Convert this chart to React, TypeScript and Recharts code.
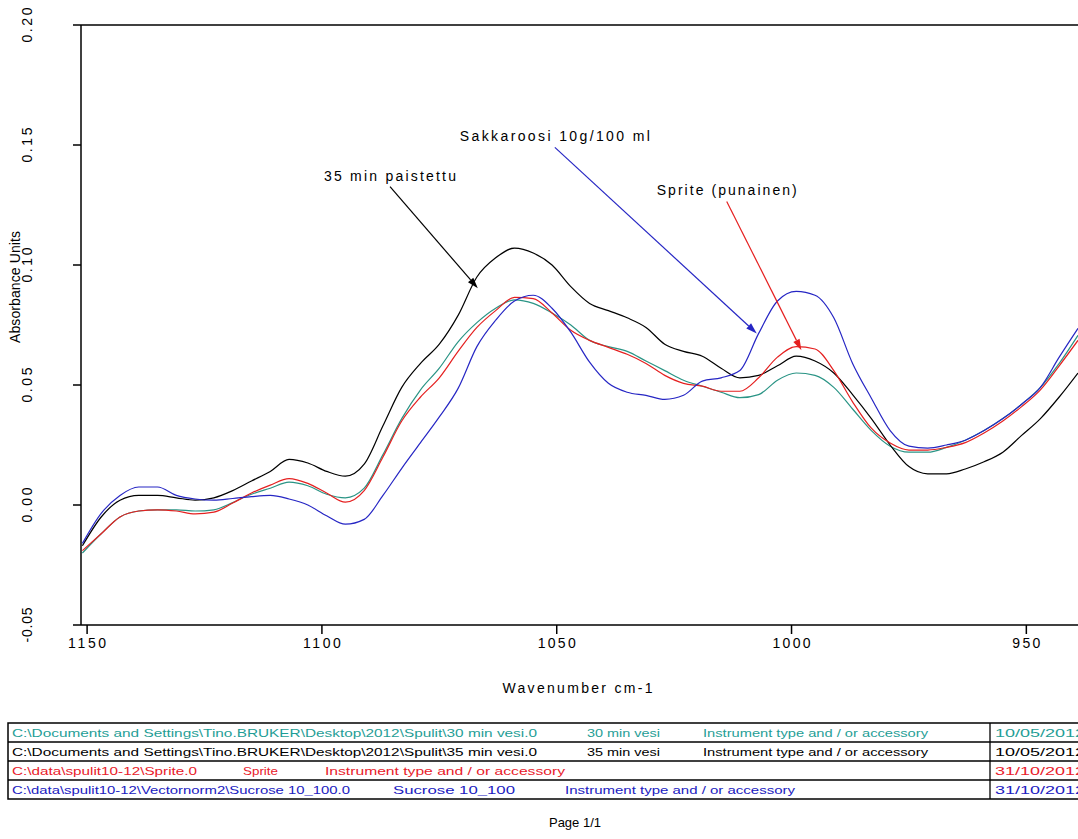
import { LineChart, Line, XAxis, YAxis, ReferenceLine } from 'recharts'

// wavenumber (cm-1), every 4 units
const wavenumbers = [
  1151, 1147, 1143, 1139, 1135, 1131, 1127, 1123, 1119, 1115, 1111, 1107, 1103, 1099, 1095, 1091, 1087, 1083,
  1079, 1075, 1071, 1067, 1063, 1059, 1055, 1051, 1047, 1043, 1039, 1035, 1031, 1027, 1023, 1019, 1015, 1011,
  1007, 1003, 999, 995, 991, 987, 983, 979, 975, 971, 967, 963, 959, 955, 951, 947, 943, 939,
]

const min30 = [
  -0.02, -0.012, -0.005, -0.0025, -0.002, -0.002, -0.0025, -0.002, 0.001, 0.0045, 0.007, 0.0095, 0.008, 0.0045, 0.003, 0.007, 0.021, 0.036,
  0.048, 0.057, 0.068, 0.076, 0.082, 0.0855, 0.084, 0.08, 0.075, 0.0686, 0.066, 0.064, 0.06, 0.056, 0.052, 0.0495, 0.047, 0.0447,
  0.046, 0.052, 0.055, 0.054, 0.049, 0.04, 0.031, 0.0245, 0.022, 0.022, 0.024, 0.027, 0.031, 0.036, 0.042, 0.049, 0.059, 0.0707,
]

const min35 = [
  -0.017, -0.005, 0.002, 0.004, 0.004, 0.003, 0.002, 0.003, 0.006, 0.01, 0.014, 0.019, 0.0175, 0.014, 0.012, 0.017, 0.033, 0.049,
  0.059, 0.067, 0.079, 0.095, 0.103, 0.107, 0.105, 0.1, 0.091, 0.084, 0.081, 0.078, 0.074, 0.067, 0.064, 0.062, 0.057, 0.053,
  0.054, 0.058, 0.062, 0.06, 0.055, 0.046, 0.036, 0.025, 0.016, 0.013, 0.013, 0.015, 0.018, 0.022, 0.029, 0.036, 0.045, 0.055,
]

const sprite = [
  -0.019, -0.012, -0.005, -0.0025, -0.002, -0.0025, -0.0037, -0.003, 0.0008, 0.005, 0.0083, 0.011, 0.009, 0.005, 0.0012, 0.006, 0.02, 0.035,
  0.045, 0.053, 0.064, 0.074, 0.081, 0.0865, 0.086, 0.08, 0.0728, 0.0686, 0.0657, 0.0628, 0.059, 0.054, 0.0507, 0.0495, 0.0474, 0.0474,
  0.053, 0.0616, 0.066, 0.065, 0.056, 0.043, 0.032, 0.0258, 0.0229, 0.0229, 0.024, 0.026, 0.03, 0.035, 0.041, 0.048, 0.058, 0.0686,
]

const sucrose = [
  -0.016, -0.0035, 0.004, 0.0075, 0.0075, 0.004, 0.0025, 0.002, 0.0027, 0.0035, 0.004, 0.0025, 0.0, -0.0045, -0.008, -0.006, 0.004, 0.0153,
  0.026, 0.0367, 0.0486, 0.066, 0.077, 0.085, 0.0874, 0.082, 0.072, 0.0595, 0.0507, 0.047, 0.0457, 0.044, 0.0457, 0.0516, 0.053, 0.056,
  0.0715, 0.085, 0.089, 0.0874, 0.078, 0.059, 0.0445, 0.031, 0.0245, 0.0237, 0.025, 0.027, 0.031, 0.036, 0.042, 0.049, 0.0616, 0.0736,
]

const xTicks = [1150, 1100, 1050, 1000, 950]
const yTicks = [-0.05, 0, 0.05, 0.1, 0.15, 0.2]

// callouts: label text, arrow start and arrow tip in (wavenumber, absorbance)
const calloutTexts = ['35 min paistettu', 'Sakkaroosi 10g/100 ml', 'Sprite (punainen)']
const calloutFrom = [[1085.5, 0.1327], [1050.4, 0.149], [1013.8, 0.1265]]
const calloutTo = [[1066.8, 0.0903], [1007.4, 0.0715], [997.9, 0.0645]]

const filePaths = [
  'C:\\Documents and Settings\\Tino.BRUKER\\Desktop\\2012\\Spulit\\30 min vesi.0',
  'C:\\Documents and Settings\\Tino.BRUKER\\Desktop\\2012\\Spulit\\35 min vesi.0',
  'C:\\data\\spulit10-12\\Sprite.0',
  'C:\\data\\spulit10-12\\Vectornorm2\\Sucrose 10_100.0',
]
const sampleNames = ['30 min vesi', '35 min vesi', 'Sprite', 'Sucrose 10_100']
const instrumentText = 'Instrument type and / or accessory'
const fileDates = ['10/05/2012', '10/05/2012', '31/10/2012', '31/10/2012']

const COLORS = ['#2a9485', '#000000', '#e52020', '#2626c4']
const ROW_COLORS = ['#1f9e96', '#000000', '#e8202a', '#2020c0']
const CALLOUT_COLORS = ['#000000', '#2626c4', '#e52020']
const CALLOUT_WIDTHS = [132, 190, 140]
const FONT = '"Liberation Sans", Arial, sans-serif'

// x start and text length of each cell, per row
const ROW_LAYOUT = [
  { path: [12, 525], name: [587, 73], inst: [703, 225] },
  { path: [12, 525], name: [587, 73], inst: [703, 225] },
  { path: [12, 185], name: [243, 35], inst: [325, 240] },
  { path: [12, 338], name: [393, 122], inst: [565, 230] },
]

const data = wavenumbers.map((wn, i) => ({
  wn,
  min30: min30[i],
  min35: min35[i],
  sprite: sprite[i],
  sucrose: sucrose[i],
}))

const seriesKeys = ['min30', 'min35', 'sprite', 'sucrose']

const YTick = ({ x, y, payload }: any) => (
  <text
    transform={`translate(${x - 44},${y}) rotate(-90)`}
    textAnchor="middle"
    dominantBaseline="central"
    fontSize={14}
    fontFamily={FONT}
    fill="#000"
    textLength={35}
    lengthAdjust="spacing"
  >
    {payload.value.toFixed(2)}
  </text>
)

const XTick = ({ x, y, payload }: any) => (
  <text
    x={x}
    y={y + 12}
    textAnchor="middle"
    fontSize={14}
    fontFamily={FONT}
    fill="#000"
    textLength={payload.value >= 1000 ? 38 : 28}
    lengthAdjust="spacing"
  >
    {payload.value}
  </text>
)

const YLabel = ({ viewBox }: any) => (
  <text
    transform={`translate(15,${viewBox.y + viewBox.height / 2 - 38}) rotate(-90)`}
    textAnchor="middle"
    dominantBaseline="central"
    fontSize={14}
    fontFamily={FONT}
    fill="#000"
    textLength={112}
    lengthAdjust="spacing"
  >
    Absorbance Units
  </text>
)

const XLabel = ({ viewBox }: any) => (
  <text
    x={viewBox.x + viewBox.width / 2 - 2}
    y={viewBox.y + viewBox.height - 7}
    textAnchor="middle"
    fontSize={14}
    fontFamily={FONT}
    fill="#000"
    textLength={150}
    lengthAdjust="spacing"
  >
    Wavenumber cm-1
  </text>
)

const arrowShape = (text: string, color: string, width: number) => (props: any) => {
  const { x1, y1, x2, y2 } = props
  const ang = Math.atan2(y2 - y1, x2 - x1)
  const len = 11
  const half = 3.5
  const bx = x2 - len * Math.cos(ang)
  const by = y2 - len * Math.sin(ang)
  const px = -Math.sin(ang) * half
  const py = Math.cos(ang) * half
  return (
    <g>
      <line x1={x1} y1={y1} x2={bx} y2={by} stroke={color} strokeWidth={1.2} />
      <polygon points={`${x2},${y2} ${bx + px},${by + py} ${bx - px},${by - py}`} fill={color} />
      <text
        x={x1}
        y={y1 - 6}
        textAnchor="middle"
        fontSize={14}
        fontFamily={FONT}
        fill="#000"
        textLength={width}
        lengthAdjust="spacing"
      >
        {text}
      </text>
    </g>
  )
}

export default function App() {
  const tableTop = 723
  const rowH = 19
  return (
    <div
      style={{
        position: 'absolute',
        left: 0,
        top: 0,
        width: 1078,
        height: 839,
        overflow: 'hidden',
        background: '#fff',
        fontFamily: FONT,
      }}
    >
      <LineChart width={1078} height={700} data={data} margin={{ top: 25, right: 0, bottom: 0, left: 0 }}>
        <XAxis
          dataKey="wn"
          type="number"
          reversed
          domain={[939, 1151.3]}
          ticks={xTicks}
          allowDataOverflow
          height={75}
          tickSize={9}
          stroke="#000"
          strokeWidth={1.5}
          tick={<XTick />}
          label={<XLabel />}
        />
        <YAxis
          type="number"
          domain={[-0.05, 0.2]}
          ticks={yTicks}
          width={81}
          tickSize={8}
          stroke="#000"
          strokeWidth={1.5}
          tick={<YTick />}
          label={<YLabel />}
        />
        <ReferenceLine y={0.2} stroke="#000" strokeWidth={1.5} />
        {seriesKeys.map((k, i) => (
          <Line
            key={k}
            dataKey={k}
            type="monotone"
            stroke={COLORS[i]}
            strokeWidth={1.2}
            dot={false}
            isAnimationActive={false}
          />
        ))}
        {calloutTexts.map((t, i) => (
          <ReferenceLine
            key={t}
            segment={[
              { x: calloutFrom[i][0], y: calloutFrom[i][1] },
              { x: calloutTo[i][0], y: calloutTo[i][1] },
            ]}
            shape={arrowShape(t, CALLOUT_COLORS[i], CALLOUT_WIDTHS[i])}
          />
        ))}
      </LineChart>
      <svg width={1078} height={839} style={{ position: 'absolute', left: 0, top: 0, pointerEvents: 'none' }}>
        <rect x={8} y={tableTop} width={1090} height={rowH * 4} fill="none" stroke="#000" strokeWidth={1.5} />
        {[1, 2, 3].map(r => (
          <line key={r} x1={8} x2={1078} y1={tableTop + r * rowH} y2={tableTop + r * rowH} stroke="#000" strokeWidth={1.3} />
        ))}
        <line x1={990} x2={990} y1={tableTop} y2={tableTop + rowH * 4} stroke="#000" strokeWidth={1.3} />
        {filePaths.map((p, r) => {
          const L = ROW_LAYOUT[r]
          const y = tableTop + r * rowH + 13.5
          const c = ROW_COLORS[r]
          return (
            <g key={r} fontSize={11} fontFamily={FONT} fill={c}>
              <text x={L.path[0]} y={y} textLength={L.path[1]} lengthAdjust="spacingAndGlyphs">{p}</text>
              <text x={L.name[0]} y={y} textLength={L.name[1]} lengthAdjust="spacingAndGlyphs">{sampleNames[r]}</text>
              <text x={L.inst[0]} y={y} textLength={L.inst[1]} lengthAdjust="spacingAndGlyphs">{instrumentText}</text>
              <text x={995} y={y} textLength={90} lengthAdjust="spacingAndGlyphs">{fileDates[r]}</text>
            </g>
          )
        })}
        <text x={575} y={827} textAnchor="middle" fontSize={13} fontFamily={FONT} fill="#000">
          Page 1/1
        </text>
      </svg>
    </div>
  )
}
